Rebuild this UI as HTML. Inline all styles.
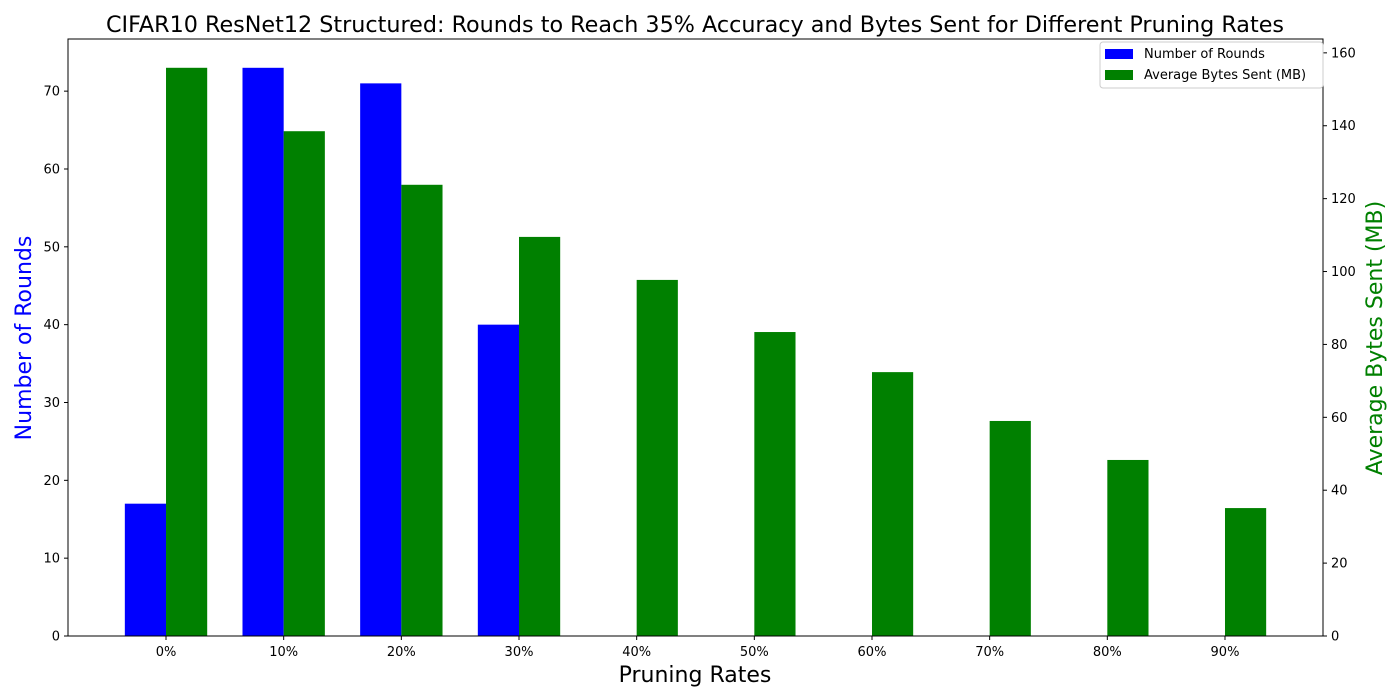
<!DOCTYPE html>
<html><head><meta charset="utf-8"><style>
body{margin:0;background:#fff;}
svg{display:block;font-family:"DejaVu Sans","Liberation Sans",sans-serif;}
</style></head><body>
<svg id="chart" width="1400" height="700">
<text x="695" y="32" text-anchor="middle" font-size="22" textLength="1178" lengthAdjust="spacingAndGlyphs">CIFAR10 ResNet12 Structured: Rounds to Reach 35% Accuracy and Bytes Sent for Different Pruning Rates</text>
<g id="bars"></g>
<g id="axes"></g>
<rect x="68" y="39" width="1255" height="597" fill="none" stroke="#000" stroke-width="1"/>
<text x="695" y="682" text-anchor="middle" font-size="22">Pruning Rates</text>
<text transform="translate(31,338) rotate(-90)" text-anchor="middle" font-size="22" fill="#0000ff">Number of Rounds</text>
<text transform="translate(1382,338) rotate(-90)" text-anchor="middle" font-size="22" fill="#008000">Average Bytes Sent (MB)</text>
<g>
<rect x="1100" y="42" width="223" height="46" rx="3" fill="#fff" fill-opacity="0.8" stroke="#ccc"/>
<rect x="1105" y="49" width="28" height="10" fill="#0000ff"/>
<text x="1144" y="58" font-size="13">Number of Rounds</text>
<rect x="1105" y="70" width="28" height="10" fill="#008000"/>
<text x="1144" y="79" font-size="13">Average Bytes Sent (MB)</text>
</g>
</svg>
<script>
const categories=["0%","10%","20%","30%","40%","50%","60%","70%","80%","90%"];
const rounds=[17,73,71,40,0,0,0,0,0,0];
const bytesMB=[155.9,138.5,123.8,109.5,97.7,83.4,72.4,59.0,48.3,35.1];
const leftTicks=[0,10,20,30,40,50,60,70];
const rightTicks=[0,20,40,60,80,100,120,140,160];
const NS="http://www.w3.org/2000/svg";
const X0=68,X1=1323,Y0=636,Y1=39;
const xMin=-0.833,xMax=9.833,lMax=76.7,rMax=163.8;
const xs=i=>X0+(i-xMin)/(xMax-xMin)*(X1-X0);
const yl=v=>Y0-v/lMax*(Y0-Y1);
const yr=v=>Y0-v/rMax*(Y0-Y1);
const bw=0.35*(X1-X0)/(xMax-xMin);
function mk(t,a,p){const e=document.createElementNS(NS,t);for(const k in a)e.setAttribute(k,a[k]);p.appendChild(e);return e;}
const bars=document.getElementById('bars'),axes=document.getElementById('axes');
categories.forEach((c,i)=>{
 const cx=xs(i);
 if(rounds[i]>0){const r=mk('rect',{x:cx-bw,y:yl(rounds[i]),width:bw,height:Y0-yl(rounds[i]),fill:'#0000ff'},bars);
 
 }
 const g=mk('rect',{x:cx,y:yr(bytesMB[i]),width:bw,height:Y0-yr(bytesMB[i]),fill:'#008000'},bars);
 
 
 mk('line',{x1:cx,x2:cx,y1:Y0,y2:Y0+4,stroke:'#000'},axes);
 const t=mk('text',{x:cx,y:Y0+20,'text-anchor':'middle','font-size':13},axes);t.textContent=c;
 
 
});
leftTicks.forEach(v=>{const y=yl(v);mk('line',{x1:X0-4,x2:X0,y1:y,y2:y,stroke:'#000'},axes);
 const t=mk('text',{x:X0-8,y:y+4.5,'text-anchor':'end','font-size':13},axes);t.textContent=v;
 
 });
rightTicks.forEach(v=>{const y=yr(v);mk('line',{x1:X1,x2:X1+4,y1:y,y2:y,stroke:'#000'},axes);
 const t=mk('text',{x:X1+8,y:y+4.5,'text-anchor':'start','font-size':13},axes);t.textContent=v;
 
 });
</script>
</body></html>
